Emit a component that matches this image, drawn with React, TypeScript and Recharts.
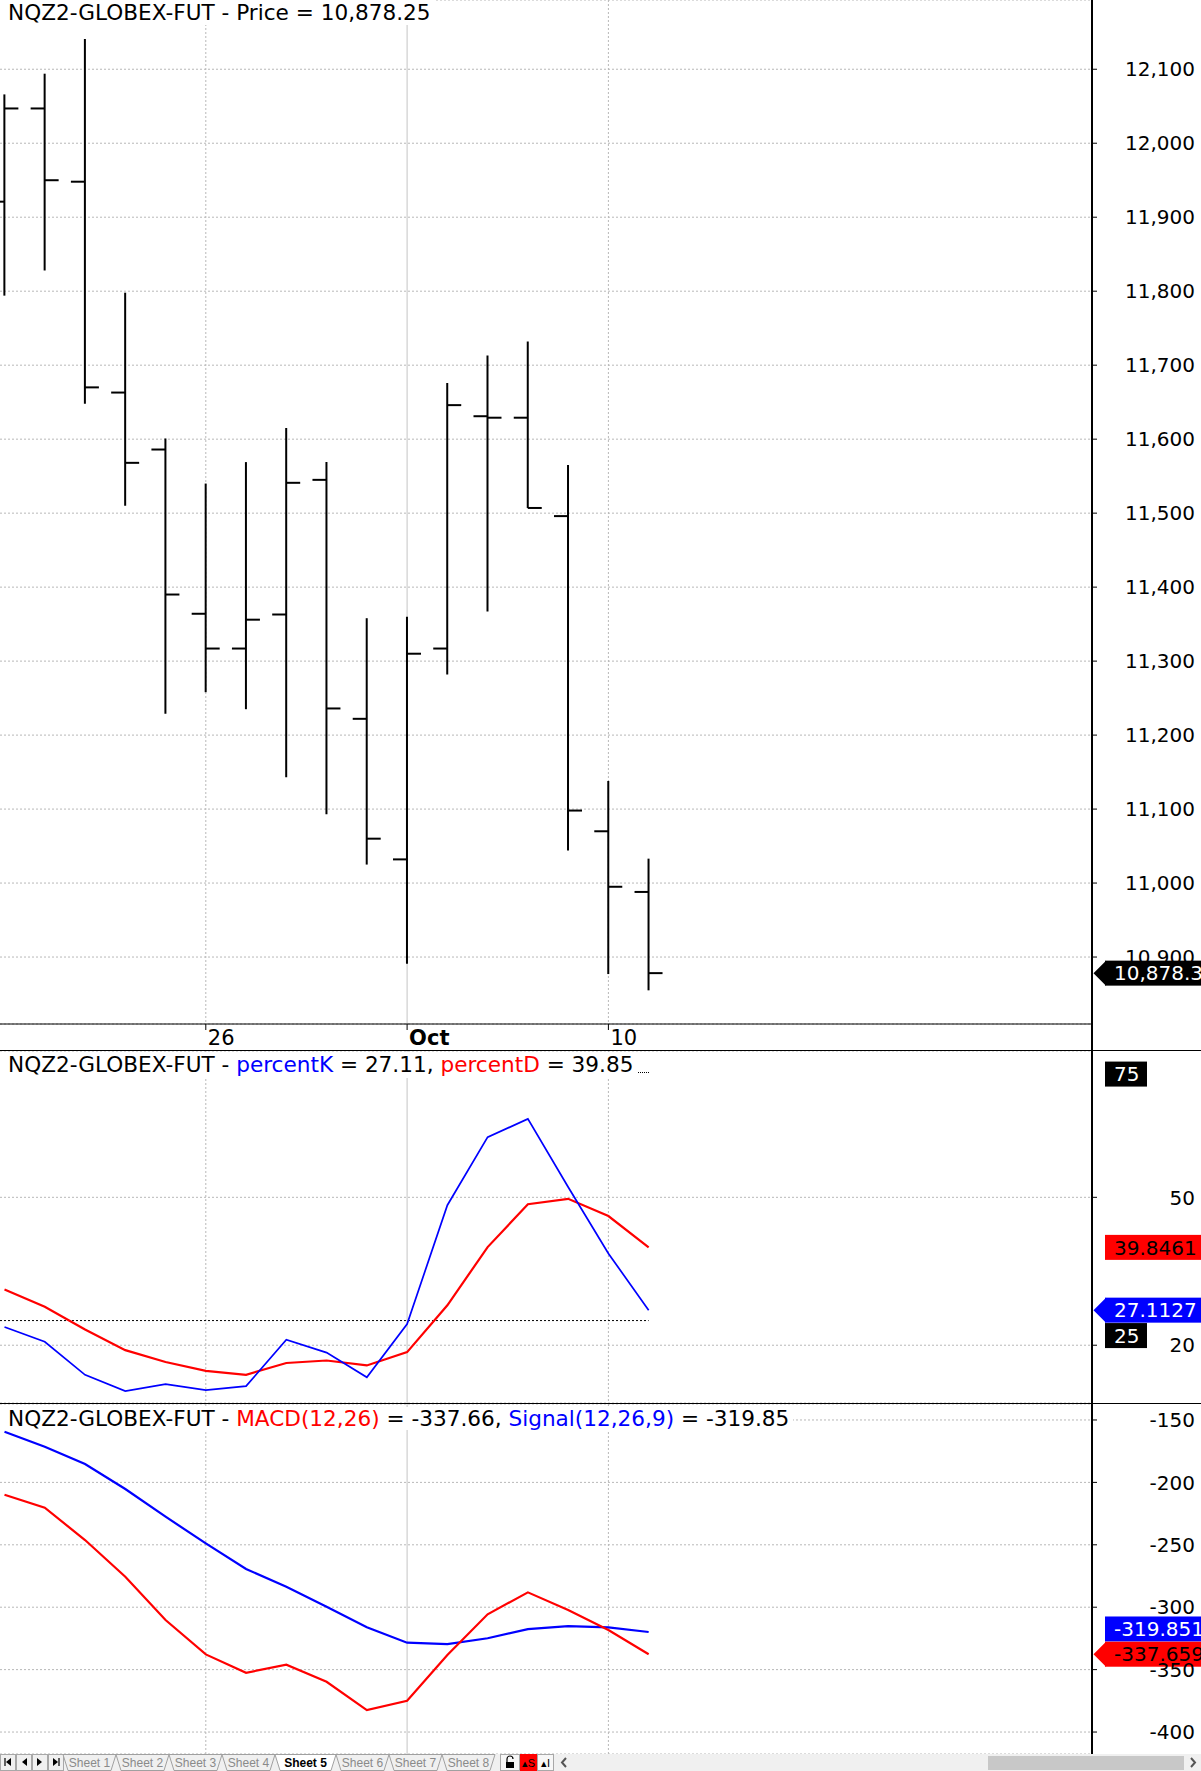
import React from 'react'
import { ComposedChart, Bar, Line, XAxis, YAxis, CartesianGrid, ReferenceLine } from 'recharts'

// trading days shown (Sep 19 .. Oct 11)
const dates = ['9/19', '9/20', '9/21', '9/22', '9/23', '9/26', '9/27', '9/28', '9/29', '9/30', '10/3', '10/4', '10/5', '10/6', '10/7', '10/10', '10/11']

const openVals = [11921, 12047, 11948, 11663, 11586, 11364, 11317, 11363, 11545, 11222, 11032, 11317, 11631, 11629, 11496, 11070, 10988]
const highVals = [12066, 12094, 12141, 11798, 11601, 11540, 11569, 11615, 11569, 11358, 11360, 11676, 11713, 11732, 11565, 11138, 11033]
const lowVals = [11794, 11828, 11648, 11510, 11229, 11258, 11235, 11143, 11093, 11025, 10891, 11282, 11367, 11507, 11044, 10877, 10855]
const closeVals = [12047, 11950, 11670, 11568, 11390, 11317, 11356, 11541, 11236, 11060, 11310, 11646, 11629, 11507, 11098, 10995, 10878.25]

const percentK = [23.7, 20.7, 14.0, 10.7, 12.1, 10.9, 11.7, 21.1, 18.5, 13.5, 24.3, 48.4, 62.2, 65.9, 52.1, 38.6, 27.1127]
const percentD = [31.3, 27.8, 23.2, 19.0, 16.6, 14.8, 14.0, 16.4, 16.9, 15.9, 18.6, 28.1, 39.9, 48.6, 49.7, 46.2, 39.8461]

const macdVals = [-209.9, -220.3, -246.2, -275.6, -310.3, -337.8, -352.5, -346.1, -359.7, -382.4, -374.9, -338.3, -305.7, -288.1, -302.2, -318.3, -337.659]
const signalVals = [-159.4, -171.4, -185.3, -205.3, -227.5, -248.8, -269.4, -283.6, -299.6, -316.1, -328.4, -329.5, -324.9, -317.5, -315.1, -316.1, -319.851]

const priceTicks = [10900, 11000, 11100, 11200, 11300, 11400, 11500, 11600, 11700, 11800, 11900, 12000, 12100]
const stochTicks = [20, 50]
const macdTicks = [-400, -350, -300, -250, -200, -150]
const dateTickIdx = [5, 10, 15]
const dateTickLabels = ['26', 'Oct', '10']
const weekLines = [5, 15]
const monthLines = [10]
const sheetNames = ['Sheet 1', 'Sheet 2', 'Sheet 3', 'Sheet 4', 'Sheet 5', 'Sheet 6', 'Sheet 7', 'Sheet 8']
const activeSheet = 'Sheet 5'

const last = dates.length - 1
const lastPrice = closeVals[last]
const lastK = percentK[last]
const lastD = percentD[last]
const lastMacd = macdVals[last]
const lastSignal = signalVals[last]

const rows = dates.map((d, i) => ({
  i,
  date: d,
  range: [lowVals[i], highVals[i]],
  open: openVals[i],
  close: closeVals[i],
  high: highVals[i],
  low: lowVals[i],
  k: percentK[i],
  d: percentD[i],
  macd: macdVals[i],
  signal: signalVals[i],
}))

const X_DOMAIN = [-0.112, 27.012]
const FONT = 'DejaVu Sans'
const GRID = '#b8b8b8'
const BLUE = '#0000ff'
const RED = '#ff0000'

const fmtPrice = (v: number) => v.toLocaleString('en-US')

function OhlcShape(props: any) {
  const { x, y, width, height, payload } = props
  if (!payload || height == null) return null
  const cx = x + width / 2
  const span = payload.high - payload.low
  const yOf = (v: number) => y + ((payload.high - v) / span) * height
  return (
    <g stroke="#000" strokeWidth={2}>
      <line x1={cx} x2={cx} y1={y} y2={y + height} />
      <line x1={cx - 14} x2={cx} y1={yOf(payload.open)} y2={yOf(payload.open)} />
      <line x1={cx} x2={cx + 14} y1={yOf(payload.close)} y2={yOf(payload.close)} />
    </g>
  )
}

function ValueTick(props: any) {
  const { x, y, payload, fmt } = props
  return (
    <text x={x + 96} y={y} dy="0.36em" textAnchor="end" fontSize={20} fontFamily={FONT} fill="#000">
      {fmt ? fmt(payload.value) : payload.value}
    </text>
  )
}

function DateTick(props: any) {
  const { x, y, payload } = props
  const label = dateTickLabels[dateTickIdx.indexOf(payload.value)]
  return (
    <text x={x + 2} y={y} dy={13} fontSize={21} fontFamily={FONT} fill="#000" fontWeight={label === 'Oct' ? 'bold' : 'normal'}>
      {label}
    </text>
  )
}

function Badge(props: any) {
  const { viewBox, text, bg, fg, arrow, boxW = 120, dy = 0 } = props
  if (!viewBox) return null
  const ax = viewBox.x + viewBox.width
  const cy = viewBox.y + dy
  const left = ax + 13
  const h = 25
  return (
    <g>
      {arrow && <polygon points={`${ax + 1.5},${cy} ${left + 1},${cy - h / 2} ${left + 1},${cy + h / 2}`} fill={bg} />}
      <rect x={left} y={cy - h / 2} width={boxW} height={h} fill={bg} />
      <text x={left + 9} y={cy} dy="0.36em" fill={fg} fontSize={20} fontFamily={FONT}>{text}</text>
    </g>
  )
}

// grids drawn behind the series
const grids = [
  <CartesianGrid key="h" vertical={false} stroke={GRID} strokeDasharray="2 2" />,
  <CartesianGrid key="w" horizontal={false} verticalValues={weekLines} stroke={GRID} strokeDasharray="2 2" />,
  <CartesianGrid key="m" horizontal={false} verticalValues={monthLines} stroke="#c4c4c4" />,
]

function Title({ top, height, children }: any) {
  return (
    <div style={{
      position: 'absolute', left: 0, top, height, lineHeight: `${height}px`, paddingLeft: 8, paddingRight: 4,
      background: '#fff', fontFamily: FONT, fontSize: 21.6, color: '#000', whiteSpace: 'nowrap',
    }}>
      {children}
    </div>
  )
}

function SheetBar() {
  let x = 63
  const tabs = sheetNames.map((name) => {
    const w = name === activeSheet ? 61 : 53
    const t = { name, x, w }
    x += w
    return t
  })
  const navGlyph = (b: number) => {
    const cx = b * 16 + 8
    const pts = b < 2 ? `${cx + 3},4 ${cx + 3},12 ${cx - 2},8` : `${cx - 3},4 ${cx - 3},12 ${cx + 2},8`
    return (
      <g key={b}>
        <rect x={b * 16 + 0.5} y={0.5} width={15} height={16} fill="#f0f0f0" stroke="#a8a8a8" />
        <polygon points={pts} fill="#000" />
        {b === 0 && <line x1={cx - 3} x2={cx - 3} y1={4} y2={12} stroke="#000" strokeWidth={1.2} />}
        {b === 3 && <line x1={cx + 3} x2={cx + 3} y1={4} y2={12} stroke="#000" strokeWidth={1.2} />}
      </g>
    )
  }
  return (
    <svg width={1201} height={17} style={{ position: 'absolute', left: 0, top: 1754 }}>
      <rect width={1201} height={17} fill="#f0f0f0" />
      {[0, 1, 2, 3].map(navGlyph)}
      {tabs.map((t) => (
        <g key={t.name}>
          <polygon
            points={`${t.x},0.5 ${t.x + t.w},0.5 ${t.x + t.w - 5},16.5 ${t.x + 5},16.5`}
            fill={t.name === activeSheet ? '#fff' : '#f0f0f0'}
            stroke="#a0a0a0"
          />
          <text x={t.x + t.w / 2} y={13} textAnchor="middle" fontSize={12}
            fontFamily="Liberation Sans" fontWeight={t.name === activeSheet ? 'bold' : 'normal'}
            fill={t.name === activeSheet ? '#000' : '#8a8a8a'}>
            {t.name}
          </text>
        </g>
      ))}
      <rect x={500.5} y={0.5} width={19} height={16} fill="#f7f7f7" stroke="#a8a8a8" />
      <rect x={506} y={8} width={8} height={6} fill="#000" />
      <path d="M507,8 V5 a3,3 0 0 1 6,0" fill="none" stroke="#000" strokeWidth={1.2} />
      <rect x={520} y={0} width={17} height={17} fill="#ff0000" />
      <text x={528.5} y={13} textAnchor="middle" fontSize={11} fontFamily="Liberation Sans" fill="#000">▴S</text>
      <rect x={537.5} y={0.5} width={16} height={16} fill="#f7f7f7" stroke="#a8a8a8" />
      <text x={545.5} y={13} textAnchor="middle" fontSize={11} fontFamily="Liberation Sans" fill="#000">▴I</text>
      <path d="M566,4 L562,8.5 L566,13" fill="none" stroke="#555" strokeWidth={2} />
      <rect x={988} y={2} width={196} height={14} fill="#c8c8c8" />
      <path d="M1191,4 L1195,8.5 L1191,13" fill="none" stroke="#555" strokeWidth={2} />
    </svg>
  )
}

export default function App() {
  return (
    <div style={{ position: 'absolute', left: 0, top: 0, width: 1201, height: 1771, background: '#fff', overflow: 'hidden' }}>
      {/* price panel */}
      <div style={{ position: 'absolute', left: 0, top: 0 }}>
        <ComposedChart width={1201} height={1051} data={rows} margin={{ top: 0, right: 0, bottom: 0, left: 0 }}>
          {grids}
          <XAxis type="number" dataKey="i" domain={X_DOMAIN} allowDataOverflow ticks={dateTickIdx} interval={0}
            height={27} tickSize={6} axisLine={{ stroke: '#000' }} tickLine={{ stroke: '#000' }} tick={<DateTick />} />
          <YAxis orientation="right" width={109} domain={[10809.5, 12193.6]} allowDataOverflow ticks={priceTicks} interval={0}
            tickSize={5} axisLine={false} tickLine={{ stroke: '#000' }} tick={<ValueTick fmt={fmtPrice} />} />
          <Bar dataKey="range" barSize={28} shape={<OhlcShape />} isAnimationActive={false} />
          <ReferenceLine y={lastPrice} stroke="none"
            label={<Badge text={lastPrice.toLocaleString('en-US', { minimumFractionDigits: 1, maximumFractionDigits: 1 })} bg="#000" fg="#fff" arrow />} />
        </ComposedChart>
      </div>
      <Title top={0} height={25}>NQZ2-GLOBEX-FUT - Price = {lastPrice.toLocaleString('en-US', { minimumFractionDigits: 2 })}</Title>
      <div style={{ position: 'absolute', left: 0, top: 1050, width: 1201, height: 1, background: '#000' }} />

      {/* stochastic panel */}
      <div style={{ position: 'absolute', left: 0, top: 1051 }}>
        <ComposedChart width={1201} height={352} data={rows} margin={{ top: 0, right: 0, bottom: 0, left: 0 }}>
          {grids}
          <XAxis type="number" dataKey="i" domain={X_DOMAIN} allowDataOverflow hide />
          <YAxis orientation="right" width={109} domain={[8.28, 79.68]} allowDataOverflow ticks={stochTicks} interval={0}
            tickSize={5} axisLine={false} tickLine={{ stroke: '#000' }} tick={<ValueTick />} />
          <ReferenceLine segment={[{ x: X_DOMAIN[0], y: 25 }, { x: last, y: 25 }]} stroke="#000" strokeDasharray="2 2" />
          <Line dataKey="d" stroke={RED} strokeWidth={2.2} dot={false} isAnimationActive={false} />
          <Line dataKey="k" stroke={BLUE} strokeWidth={1.7} dot={false} isAnimationActive={false} />
          <ReferenceLine y={75} stroke="none" label={<Badge text="75" bg="#000" fg="#fff" boxW={42} />} />
          <ReferenceLine y={25} stroke="none" label={<Badge text="25" bg="#000" fg="#fff" boxW={42} dy={15} />} />
          <ReferenceLine y={lastD} stroke="none" label={<Badge text={lastD.toFixed(4)} bg={RED} fg="#000" />} />
          <ReferenceLine y={lastK} stroke="none" label={<Badge text={lastK.toFixed(4)} bg={BLUE} fg="#fff" arrow />} />
        </ComposedChart>
      </div>
      <div style={{ position: 'absolute', left: 5, top: 1072, width: 644, borderTop: '1px dotted #000' }} />
      <Title top={1052} height={26}>
        NQZ2-GLOBEX-FUT - <span style={{ color: BLUE }}>percentK</span> = {lastK.toFixed(2)}, <span style={{ color: RED }}>percentD</span> = {lastD.toFixed(2)}
      </Title>
      <div style={{ position: 'absolute', left: 0, top: 1403, width: 1201, height: 1, background: '#000' }} />

      {/* MACD panel */}
      <div style={{ position: 'absolute', left: 0, top: 1404 }}>
        <ComposedChart width={1201} height={350} data={rows} margin={{ top: 0, right: 0, bottom: 0, left: 0 }}>
          {grids}
          <XAxis type="number" dataKey="i" domain={X_DOMAIN} allowDataOverflow hide />
          <YAxis orientation="right" width={109} domain={[-417.6, -137.2]} allowDataOverflow ticks={macdTicks} interval={0}
            tickSize={5} axisLine={false} tickLine={{ stroke: '#000' }} tick={<ValueTick />} />
          <Line dataKey="signal" stroke={BLUE} strokeWidth={2.2} dot={false} isAnimationActive={false} />
          <Line dataKey="macd" stroke={RED} strokeWidth={2.2} dot={false} isAnimationActive={false} />
          <ReferenceLine y={lastSignal} stroke="none" label={<Badge text={lastSignal.toFixed(3)} bg={BLUE} fg="#fff" dy={-3} />} />
          <ReferenceLine y={lastMacd} stroke="none" label={<Badge text={lastMacd.toFixed(3)} bg={RED} fg="#000" arrow />} />
        </ComposedChart>
      </div>
      <Title top={1407} height={23}>
        NQZ2-GLOBEX-FUT - <span style={{ color: RED }}>MACD(12,26)</span> = {lastMacd.toFixed(2)}, <span style={{ color: BLUE }}>Signal(12,26,9)</span> = {lastSignal.toFixed(2)}
      </Title>

      {/* right axis line running through all panels */}
      <div style={{ position: 'absolute', left: 1091, top: 0, width: 1.5, height: 1754, background: '#000' }} />
      <SheetBar />
    </div>
  )
}
